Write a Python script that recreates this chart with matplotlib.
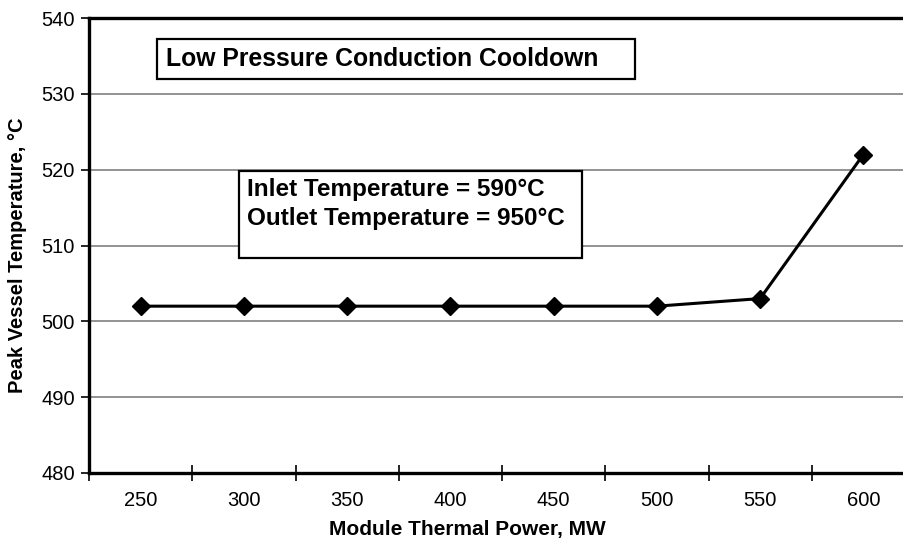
import matplotlib.pyplot as plt
from matplotlib.patches import Rectangle

plt.rcParams['font.family'] = ['Liberation Sans', 'DejaVu Sans']

# Cooldown results per module power
power_mw = ['250', '300', '350', '400', '450', '500', '550', '600']
peak_vessel_temp = [502, 502, 502, 502, 502, 502, 503, 522]
y_ticks = [480, 490, 500, 510, 520, 530, 540]

fig = plt.figure(figsize=(9.04, 5.48), dpi=100)
# plot area runs a little past the right edge of the figure
ax = fig.add_axes([89 / 904, 75 / 548, 826 / 904, 455 / 548])

x = list(range(len(power_mw)))
ax.plot(x, peak_vessel_temp, color='black', lw=2.2, marker='D',
        markersize=9, markerfacecolor='black', markeredgecolor='black',
        zorder=3)

ax.set_xlim(-0.5, len(power_mw) - 0.5)
ax.set_ylim(480, 540)
ax.set_yticks(y_ticks)
ax.yaxis.grid(True, color='#808080', lw=1.2)
ax.set_axisbelow(True)

# category axis: labels centred, tick marks between categories
ax.set_xticks(x)
ax.set_xticklabels(power_mw)
ax.set_xticks([i - 0.5 for i in range(len(power_mw) + 1)], minor=True)
ax.tick_params(axis='x', which='major', length=0, pad=13, labelsize=14.5)
ax.tick_params(axis='x', which='minor', direction='inout', length=12,
               width=1.2)
ax.tick_params(axis='y', which='major', direction='out', length=6,
               width=1.2, pad=4, labelsize=14.5)

for side in ['top', 'left', 'bottom']:
    ax.spines[side].set_linewidth(2.4)
ax.spines['right'].set_visible(False)

fig.text(467 / 904, 1 - 530 / 548, 'Module Thermal Power, MW',
         ha='center', va='center', fontsize=15, fontweight='bold')
fig.text(18 / 904, 1 - 255 / 548, 'Peak Vessel Temperature, °C',
         ha='center', va='center', rotation=90, fontsize=14.5,
         fontweight='bold')

# title box
ax.add_patch(Rectangle((0.0823, 0.866), 0.661 - 0.0823, 0.954 - 0.866,
                       transform=ax.transAxes, facecolor='white',
                       edgecolor='black', lw=1.6, zorder=4))
ax.text(0.0932, 0.910, 'Low Pressure Conduction Cooldown',
        transform=ax.transAxes, ha='left', va='center', fontsize=17.8,
        fontweight='bold', zorder=5)

# operating conditions box
ax.add_patch(Rectangle((0.1816, 0.4725), 0.597 - 0.1816, 0.664 - 0.4725,
                       transform=ax.transAxes, facecolor='white',
                       edgecolor='black', lw=1.6, zorder=4))
ax.text(0.191, 0.622, 'Inlet Temperature = 590°C',
        transform=ax.transAxes, ha='left', va='center', fontsize=17.5,
        fontweight='bold', zorder=5)
ax.text(0.191, 0.560, 'Outlet Temperature = 950°C',
        transform=ax.transAxes, ha='left', va='center', fontsize=17.5,
        fontweight='bold', zorder=5)

fig.savefig('out.png', dpi=100)
